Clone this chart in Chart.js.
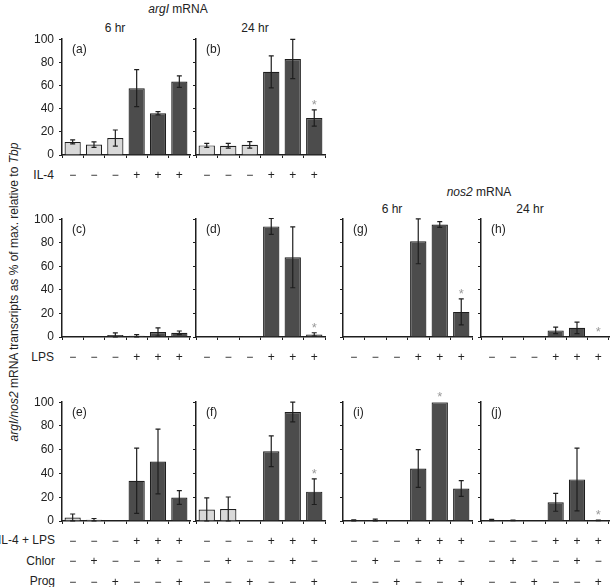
<!DOCTYPE html>
<html>
<head>
<meta charset="utf-8">
<script src="https://cdn.jsdelivr.net/npm/chart.js@4.4.0/dist/chart.umd.min.js"></script>
<style>
  body { margin: 0; background: #fff; }
  #fig { position: relative; width: 613px; height: 587px; overflow: hidden;
         font-family: 'Liberation Sans', Arial, sans-serif; font-size: 12px; color: #222; }
  #fig canvas { position: absolute; }
  .txt { position: absolute; line-height: 1; white-space: nowrap; transform: translate(-50%, -50%); }
  .rlab { position: absolute; line-height: 1; white-space: nowrap; transform: translate(-100%, -50%); }
</style>
</head>
<body>
<div id="fig">
  <div class="txt" style="left:178px;top:9px"><i>argI</i> mRNA</div>
  <div class="txt" style="left:115px;top:28px">6 hr</div>
  <div class="txt" style="left:255px;top:28px">24 hr</div>
  <div class="txt" style="left:479px;top:192px"><i>nos2</i> mRNA</div>
  <div class="txt" style="left:392px;top:209px">6 hr</div>
  <div class="txt" style="left:530px;top:209px">24 hr</div>
  <div class="txt" style="left:14px;top:292px;transform:translate(-50%,-50%) rotate(-90deg)"><i>argI/nos2</i> mRNA transcripts as % of max. relative to <i>Tbp</i></div>
  <div class="rlab" style="left:54px;top:175px">IL-4</div>
  <div class="rlab" style="left:54px;top:357px">LPS</div>
  <div class="rlab" style="left:55px;top:540px">IL-4 + LPS</div>
  <div class="rlab" style="left:55px;top:561px">Chlor</div>
  <div class="rlab" style="left:55px;top:581px">Prog</div>
</div>
<script>
// treatment signs under the bars
const signsIL4 = ['−', '−', '−', '+', '+', '+'];
const signsLPS = ['−', '−', '−', '+', '+', '+'];
const signsStim = ['−', '−', '−', '+', '+', '+'];
const signsChlor = ['−', '+', '−', '−', '+', '−'];
const signsProg = ['−', '−', '+', '−', '−', '+'];
const yTicks = [0, 20, 40, 60, 80, 100];

// argI, 6 hr / 24 hr, IL-4
const valuesA = [11.3, 9, 14.6, 57.7, 36, 63.4];
const errorsA = [1.7, 2.4, 7, 16, 1.4, 5];
const valuesB = [8.3, 8, 8.8, 71.8, 82.9, 32];
const errorsB = [1.8, 2, 2.8, 13.8, 17, 7];
// argI, LPS
const valuesC = [0, 0.3, 1.7, 1.1, 4.2, 3.6];
const errorsC = [0, 0, 1.8, 1, 3.5, 1.5];
const valuesD = [0, 0, 0.2, 93.9, 67.6, 2.2];
const errorsD = [0, 0, 0, 6.7, 25.8, 1.4];
// argI, IL-4 + LPS with Chlor / Prog
const valuesE = [3, 1.1, 0, 33.9, 50.1, 19.8];
const errorsE = [2.9, 1, 0, 27.5, 27.3, 5.8];
const valuesF = [9.7, 10, 0, 58.7, 91.7, 24.7];
const errorsF = [9.7, 10.2, 0, 13, 8.3, 10.8];
// nos2, LPS
const valuesG = [0, 0, 0, 81.2, 95.5, 21.3];
const errorsG = [0, 0, 0, 19, 2.4, 11];
const valuesH = [0, 0, 0, 5.6, 7.8, 0.3];
const errorsH = [0, 0, 0, 2.7, 4.9, 0];
// nos2, IL-4 + LPS with Chlor / Prog
const valuesI = [0.5, 0.3, 0, 44.2, 100, 27.4];
const errorsI = [0.4, 1.2, 0, 15.9, 0, 6.6];
const valuesJ = [0.8, 0.5, 0, 15.7, 35, 0.5];
const errorsJ = [0.6, 0.3, 0, 7.5, 26.4, 0.3];

// significant bars (index)
const starsB = [5], starsD = [5], starsF = [5], starsG = [5], starsH = [5], starsI = [4], starsJ = [5];

const labelsIL4 = signsIL4.map(s => [s]);
const labelsLPS = signsLPS.map(s => [s]);
const labelsStim = signsStim.map((s, i) => [s, signsChlor[i], signsProg[i]]);

const LIGHT = '#d9d9d9', DARK = '#4c4c4c', INK = '#1e1e1e';
const cols = [[62, 190], [196, 325], [343, 472], [481, 609]];
const rows = [[37, 155, 30], [217, 337, 30], [400, 521, 72]];

const panels = [
  { id: '(a)', c: 0, r: 0, labels: labelsIL4, v: valuesA, e: errorsA, stars: [], light: 3, yLab: true },
  { id: '(b)', c: 1, r: 0, labels: labelsIL4, v: valuesB, e: errorsB, stars: starsB, light: 3 },
  { id: '(c)', c: 0, r: 1, labels: labelsLPS, v: valuesC, e: errorsC, stars: [], light: 0, yLab: true },
  { id: '(d)', c: 1, r: 1, labels: labelsLPS, v: valuesD, e: errorsD, stars: starsD, light: 0 },
  { id: '(g)', c: 2, r: 1, labels: labelsLPS, v: valuesG, e: errorsG, stars: starsG, light: 0 },
  { id: '(h)', c: 3, r: 1, labels: labelsLPS, v: valuesH, e: errorsH, stars: starsH, light: 0 },
  { id: '(e)', c: 0, r: 2, labels: labelsStim, v: valuesE, e: errorsE, stars: [], light: 3, yLab: true },
  { id: '(f)', c: 1, r: 2, labels: labelsStim, v: valuesF, e: errorsF, stars: starsF, light: 3 },
  { id: '(i)', c: 2, r: 2, labels: labelsStim, v: valuesI, e: errorsI, stars: starsI, light: 0 },
  { id: '(j)', c: 3, r: 2, labels: labelsStim, v: valuesJ, e: errorsJ, stars: starsJ, light: 0 }
];

Chart.defaults.font.family = "'Liberation Sans', Arial, sans-serif";
Chart.defaults.font.size = 12;
Chart.defaults.color = '#222';

// error bars, stars and panel letter
const extras = {
  id: 'extras',
  afterDatasetsDraw(chart, args, opts) {
    const ctx = chart.ctx;
    const y = chart.scales.y;
    const bars = chart.getDatasetMeta(0).data;
    ctx.save();
    ctx.strokeStyle = INK;
    ctx.lineWidth = 1.2;
    opts.v.forEach((v, i) => {
      const e = opts.e[i];
      const x = bars[i].x;
      if (e > 0) {
        const yt = y.getPixelForValue(v + e), yb = y.getPixelForValue(Math.max(v - e, 0));
        ctx.beginPath();
        ctx.moveTo(x, yt); ctx.lineTo(x, yb);
        ctx.moveTo(x - 2.5, yt); ctx.lineTo(x + 2.5, yt);
        ctx.moveTo(x - 2.5, yb); ctx.lineTo(x + 2.5, yb);
        ctx.stroke();
      }
      if (opts.stars.includes(i)) {
        ctx.fillStyle = '#9a9a9a';
        ctx.font = "13px 'Liberation Sans', Arial, sans-serif";
        ctx.textAlign = 'center';
        ctx.textBaseline = 'alphabetic';
        ctx.fillText('*', x, y.getPixelForValue(v + e) - 1);
      }
    });
    ctx.fillStyle = '#222';
    ctx.font = "12px 'Liberation Sans', Arial, sans-serif";
    ctx.textAlign = 'left';
    ctx.textBaseline = 'top';
    ctx.fillText(opts.id, chart.chartArea.left + 10, chart.chartArea.top + 4);
    ctx.restore();
  }
};

const fig = document.getElementById('fig');
panels.forEach(p => {
  const [x0, x1] = cols[p.c];
  const [yt, yb, xh] = rows[p.r];
  const cv = document.createElement('canvas');
  const w = x1 - x0 + 44, h = 10 + (yb - yt) + xh;
  cv.width = w; cv.height = h;
  cv.style.left = (x0 - 40) + 'px';
  cv.style.top = (yt - 10) + 'px';
  cv.style.width = w + 'px';
  cv.style.height = h + 'px';
  fig.appendChild(cv);

  new Chart(cv, {
    type: 'bar',
    data: {
      labels: p.labels,
      datasets: [{
        data: p.v,
        backgroundColor: p.v.map((_, i) => i < p.light ? LIGHT : DARK),
        borderColor: INK,
        borderWidth: 1.2,
        barPercentage: 0.76,
        categoryPercentage: 1
      }]
    },
    options: {
      responsive: false,
      animation: false,
      layout: { padding: { top: 10, right: 4, left: 0, bottom: 0 } },
      plugins: { legend: { display: false }, tooltip: { enabled: false }, extras: p },
      scales: {
        x: {
          afterFit: s => { s.height = xh; },
          border: { color: INK, width: 1.5 },
          grid: { drawOnChartArea: false, tickLength: 3, color: INK, offset: true },
          ticks: { autoSkip: false, maxRotation: 0, padding: 7, font: { size: 12, lineHeight: '20.5px' } }
        },
        y: {
          min: 0, max: 100,
          afterFit: s => { s.width = 40; },
          afterBuildTicks: s => { s.ticks = yTicks.map(v => ({ value: v })); },
          border: { color: INK, width: 1.5 },
          grid: { drawOnChartArea: false, tickLength: 3, color: INK },
          ticks: { padding: 5, callback: v => p.yLab ? v : '' }
        }
      }
    },
    plugins: [extras]
  });
});
</script>
</body>
</html>
